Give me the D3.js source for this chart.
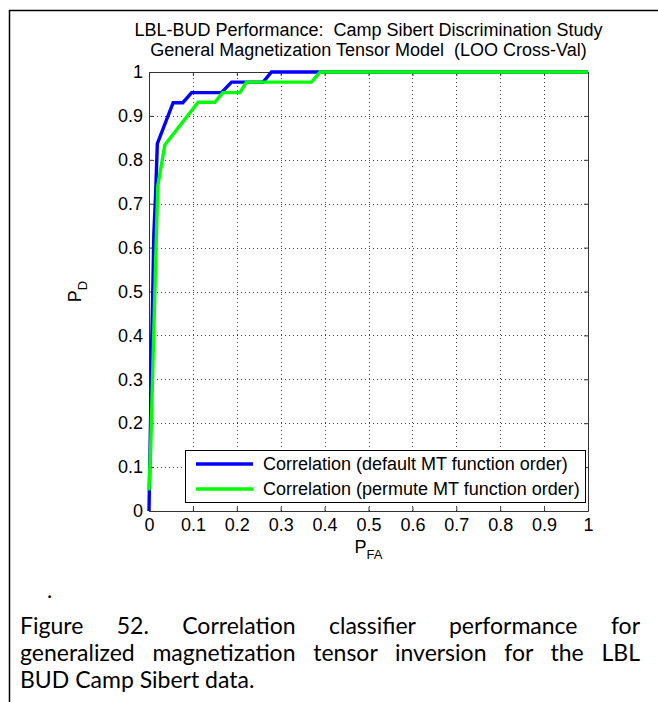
<!DOCTYPE html>
<html lang="en">
<head>
    <meta charset="UTF-8">
    <title>LBL-BUD Performance</title>
    <style>
        body { margin: 0; background: #fff; }
        #main { position: relative; width: 658px; height: 702px; overflow: hidden; }
        svg { position: absolute; left: 0; top: 0; }
        #caption {
            position: absolute; left: 20px; top: 612px; width: 620px;
            font-family: Lato, 'Noto Sans', sans-serif; font-size: 23px; line-height: 27px; color: #000;
        }
        #caption div { white-space: nowrap; }
        #caption .just { text-align: justify; text-align-last: justify; }
    </style>
</head>
<body>
    <div id="main">
        <svg width="658" height="702"></svg>
        <div id="caption">
            <div class="just">Figure 52. Correlation classifier performance for</div>
            <div class="just">generalized magnetization tensor inversion for the LBL</div>
            <div>BUD Camp Sibert data.</div>
        </div>
    </div>

    <script src="https://cdnjs.cloudflare.com/ajax/libs/d3/7.8.5/d3.min.js"></script>
    <script>
        // 값들은 그림에서 읽음
        const titleLines = [
            'LBL-BUD Performance:  Camp Sibert Discrimination Study',
            'General Magnetization Tensor Model  (LOO Cross-Val)'
        ];
        const seriesNames = [
            'Correlation (default MT function order)',
            'Correlation (permute MT function order)'
        ];
        const seriesColors = ['#0000ff', '#00ff00'];

        const pfaDefault = [0, 0.004, 0.005, 0.008, 0.011, 0.015, 0.019, 0.055, 0.077, 0.097, 0.165, 0.188, 0.26, 0.279, 1];
        const pdDefault  = [0, 0.23, 0.33, 0.47, 0.63, 0.72, 0.837, 0.930, 0.930, 0.953, 0.953, 0.977, 0.977, 1, 1];

        const pfaPermute = [0, 0.004, 0.008, 0.012, 0.016, 0.02, 0.036, 0.112, 0.150, 0.168, 0.207, 0.222, 0.37, 0.39, 1];
        const pdPermute  = [0.047, 0.15, 0.3, 0.45, 0.6, 0.74, 0.834, 0.931, 0.931, 0.953, 0.953, 0.977, 0.977, 1, 1];

        const ticks = [0, 0.1, 0.2, 0.3, 0.4, 0.5, 0.6, 0.7, 0.8, 0.9, 1];
        const tickLabels = ['0', '0.1', '0.2', '0.3', '0.4', '0.5', '0.6', '0.7', '0.8', '0.9', '1'];

        const svg = d3.select('svg');
        const axisFont = "'Liberation Sans', Arial, sans-serif";
        const fontSize = 18;

        // 바깥 테두리 (위, 왼쪽)
        svg.append('path')
            .attr('d', 'M9.5,702 V10.5 H658')
            .attr('fill', 'none')
            .attr('stroke', '#000')
            .attr('stroke-width', 1.5);

        var x = d3.scaleLinear().domain([0, 1]).range([149, 588]);
        var y = d3.scaleLinear().domain([0, 1]).range([511, 72]);

        // 그리드 (점선)
        var grid = svg.append('g').attr('class', 'grid');
        grid.selectAll('line.gx')
            .data(ticks.slice(1, -1))
            .enter()
            .append('line')
            .attr('x1', d => Math.round(x(d)) + 0.5)
            .attr('x2', d => Math.round(x(d)) + 0.5)
            .attr('y1', y(0))
            .attr('y2', y(1))
            .attr('stroke', '#444')
            .attr('stroke-dasharray', '1,3');
        grid.selectAll('line.gy')
            .data(ticks.slice(1, -1))
            .enter()
            .append('line')
            .attr('y1', d => Math.round(y(d)) + 0.5)
            .attr('y2', d => Math.round(y(d)) + 0.5)
            .attr('x1', x(0))
            .attr('x2', x(1))
            .attr('stroke', '#444')
            .attr('stroke-dasharray', '1,3');

        // 축
        var fmt = (d, i) => tickLabels[i];
        var axB = svg.append('g')
            .attr('transform', 'translate(0,' + y(0) + ')')
            .call(d3.axisBottom(x).tickValues(ticks).tickFormat(fmt).tickSizeInner(-4).tickSizeOuter(0).tickPadding(7));
        var axL = svg.append('g')
            .attr('transform', 'translate(' + x(0) + ',0)')
            .call(d3.axisLeft(y).tickValues(ticks).tickFormat(fmt).tickSizeInner(-4).tickSizeOuter(0).tickPadding(6));
        var axT = svg.append('g')
            .attr('transform', 'translate(0,' + y(1) + ')')
            .call(d3.axisTop(x).tickValues(ticks).tickFormat('').tickSizeInner(-4).tickSizeOuter(0));
        var axR = svg.append('g')
            .attr('transform', 'translate(' + x(1) + ',0)')
            .call(d3.axisRight(y).tickValues(ticks).tickFormat('').tickSizeInner(-4).tickSizeOuter(0));

        [axB, axL, axT, axR].forEach(function (g) {
            g.selectAll('.domain').attr('stroke', '#333');
            g.selectAll('.tick line').attr('stroke', '#333');
            g.selectAll('text').attr('font-family', axisFont).attr('font-size', fontSize).attr('fill', '#000');
        });

        // 선들
        var line = d3.line().x(d => x(d[0])).y(d => y(d[1]));
        var series = [
            d3.zip(pfaDefault, pdDefault),
            d3.zip(pfaPermute, pdPermute)
        ];
        svg.append('g')
            .attr('class', 'curves')
            .selectAll('path')
            .data(series)
            .enter()
            .append('path')
            .attr('d', line)
            .attr('fill', 'none')
            .attr('stroke', (d, i) => seriesColors[i])
            .attr('stroke-width', 3.4)
            .attr('stroke-linejoin', 'miter');

        // 제목
        svg.append('g')
            .selectAll('text')
            .data(titleLines)
            .enter()
            .append('text')
            .attr('x', (x(0) + x(1)) / 2)
            .attr('y', (d, i) => 36 + i * 20)
            .attr('text-anchor', 'middle')
            .attr('font-family', axisFont)
            .attr('font-size', fontSize)
            .style('white-space', 'pre')
            .text(d => d);

        // 축 라벨 P_FA, P_D
        var xl = svg.append('text')
            .attr('x', (x(0) + x(1)) / 2)
            .attr('y', 553)
            .attr('text-anchor', 'middle')
            .attr('font-family', axisFont)
            .attr('font-size', fontSize);
        xl.append('tspan').text('P');
        xl.append('tspan').attr('font-size', 13).attr('dy', 6).text('FA');

        var yl = svg.append('text')
            .attr('transform', 'translate(81,' + y(0.5) + ') rotate(-90)')
            .attr('text-anchor', 'middle')
            .attr('font-family', axisFont)
            .attr('font-size', fontSize);
        yl.append('tspan').text('P');
        yl.append('tspan').attr('font-size', 13).attr('dy', 6).text('D');

        // 범례
        var legend = svg.append('g').attr('id', 'legend');
        legend.append('rect')
            .attr('x', 185.5).attr('y', 450.5)
            .attr('width', 400).attr('height', 52)
            .attr('fill', '#fff')
            .attr('stroke', '#000');
        var items = legend.selectAll('g.item')
            .data(seriesNames)
            .enter()
            .append('g')
            .attr('transform', (d, i) => 'translate(0,' + (464 + i * 25) + ')');
        items.append('line')
            .attr('x1', 196).attr('x2', 253)
            .attr('stroke', (d, i) => seriesColors[i])
            .attr('stroke-width', 3.4);
        items.append('text')
            .attr('x', 263)
            .attr('dy', '0.35em')
            .attr('font-family', axisFont)
            .attr('font-size', fontSize)
            .text(d => d);

        // 그림 아래 점
        svg.append('text')
            .attr('x', 47).attr('y', 598)
            .attr('font-family', "Lato, sans-serif")
            .attr('font-size', 22)
            .text('.');
    </script>
</body>
</html>
